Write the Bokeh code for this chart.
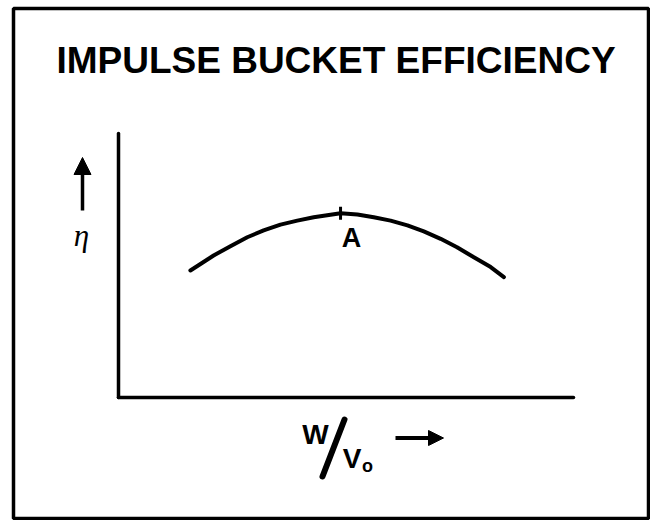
import numpy as np
from bokeh.plotting import figure
from bokeh.models import Range1d, Label, Arrow, NormalHead, FixedTicker, LinearAxis
from bokeh.embed import file_html
from bokeh.resources import INLINE

# ---- data (W/V0 and eta normalised to the drawn axis lengths) ----
speed_ratio = [0.158, 0.209, 0.246, 0.283, 0.319, 0.356, 0.393, 0.429, 0.466, 0.488,
               0.525, 0.561, 0.598, 0.635, 0.671, 0.708, 0.744, 0.781, 0.818, 0.847]
efficiency = [0.481, 0.538, 0.573, 0.607, 0.633, 0.655, 0.670, 0.683, 0.692, 0.698,
              0.693, 0.683, 0.670, 0.652, 0.629, 0.601, 0.569, 0.531, 0.494, 0.456]
title_text = "IMPULSE BUCKET EFFICIENCY"
peak_label = "A"
y_symbol = "η"

# ---- layout: pixel of data 0 and 1 on each axis ----
X0_PX, X1_PX = 118.0, 573.0
Y0_PX, Y1_PX = 397.0, 133.0


def gx(px):
    return (px - X0_PX) / (X1_PX - X0_PX)


def gy(py):
    return (Y0_PX - py) / (Y0_PX - Y1_PX)


W, H = 650, 520
MB_L, MB_R, MB_T, MB_B = 13, 2, 8, 2
frame_left = MB_L
frame_right = W - MB_R
frame_top = MB_T
frame_bottom = H - MB_B

p = figure(width=W, height=H, output_backend="svg", toolbar_location=None,
           x_range=Range1d(gx(frame_left), gx(frame_right)),
           y_range=Range1d(gy(frame_bottom), gy(frame_top)),
           x_axis_type=None, y_axis_type=None,
           min_border_left=MB_L, min_border_right=MB_R,
           min_border_top=MB_T, min_border_bottom=MB_B)
p.grid.visible = False
p.background_fill_color = "white"
p.border_fill_color = "white"
p.outline_line_color = "black"
p.outline_line_width = 3.5

# axes drawn at 0 with bounded lines
xaxis = LinearAxis(fixed_location=0, bounds=(0, 1), ticker=FixedTicker(ticks=[]))
yaxis = LinearAxis(fixed_location=0, bounds=(0, 1), ticker=FixedTicker(ticks=[]))
for ax in (xaxis, yaxis):
    ax.axis_line_color = "black"
    ax.axis_line_width = 3.5
    ax.axis_line_cap = "round"
    ax.major_tick_line_color = None
    ax.minor_tick_line_color = None
    ax.major_label_text_color = None
p.add_layout(xaxis, "below")
p.add_layout(yaxis, "left")

# curve
p.line(speed_ratio, efficiency, line_color="black", line_width=4,
       line_cap="round", line_join="round")

# peak tick mark
i_peak = int(np.argmax(efficiency))
p.scatter([speed_ratio[i_peak]], [efficiency[i_peak]], marker="dash", angle=np.pi / 2,
          size=13, line_color="black", line_width=3)

FONT = "Liberation Sans"


def label(px, py, text, size, font=FONT, style="bold"):
    p.add_layout(Label(x=gx(px), y=gy(py), text=text, text_align="center",
                       text_baseline="middle", text_font=font, text_font_style=style,
                       text_font_size=size, text_color="black"))


label(335.5, 60, title_text, "37px")
label(351, 237.5, peak_label, "27px")
label(81, 235, y_symbol, "31px", font="Liberation Serif", style="italic")

p.add_layout(Arrow(x_start=gx(82), y_start=gy(210), x_end=gx(82), y_end=gy(157),
                   line_width=3.5, line_color="black",
                   end=NormalHead(size=17, fill_color="black", line_color="black")))

# W / Vo label
label(315, 434, "W", "28px")
p.add_layout(Arrow(x_start=gx(322), y_start=gy(476), x_end=gx(344), y_end=gy(419),
                   line_width=6, line_color="black", line_cap="round", start=None, end=None))
label(351.5, 457.5, "V", "28px")
label(367, 465.5, "o", "18px")
p.add_layout(Arrow(x_start=gx(395), y_start=gy(437.5), x_end=gx(443), y_end=gy(437.5),
                   line_width=4, line_color="black",
                   end=NormalHead(size=15, fill_color="black", line_color="black")))

open("out.html", "w").write(file_html(p, INLINE))
